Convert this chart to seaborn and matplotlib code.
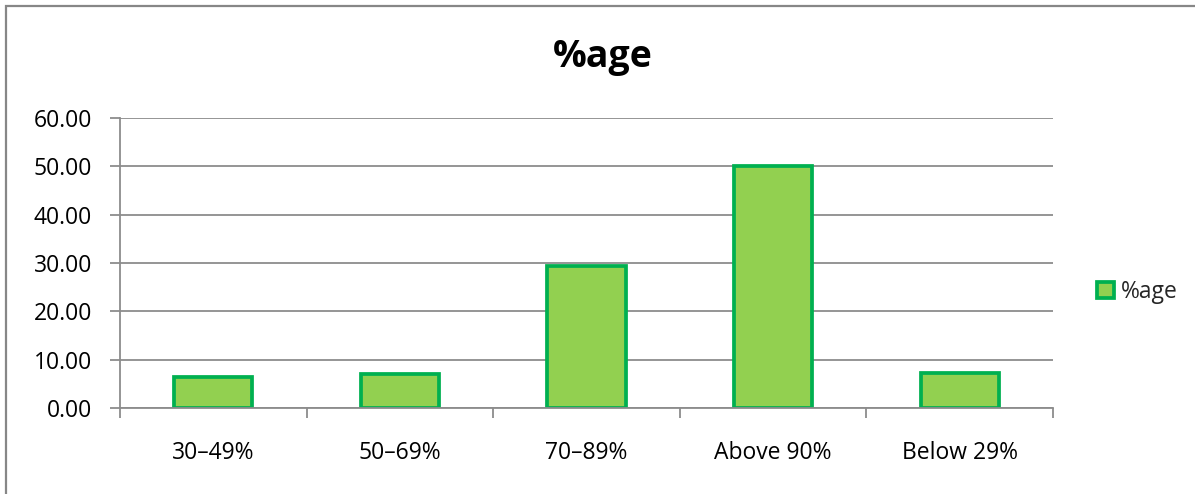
import matplotlib
matplotlib.use("Agg")
import matplotlib.pyplot as plt
import seaborn as sns
import pandas as pd
from matplotlib.patches import Rectangle, Patch
from matplotlib.ticker import FixedLocator

# data
categories = ["30–49%", "50–69%", "70–89%", "Above 90%", "Below 29%"]
values = [6.4, 7.0, 29.3, 50.0, 7.2]
series_name = "%age"
y_ticks = [0, 10, 20, 30, 40, 50, 60]

data = pd.DataFrame({"band": categories, "pct": values})

sns.set_style("white")
plt.rcParams["font.family"] = ["Open Sans", "DejaVu Sans"]

fill = "#92D050"
edge = "#00B050"
gray = "#8C8C8C"

fig = plt.figure(figsize=(11.95, 4.94), dpi=100)
ax = fig.add_axes([120 / 1195, 86 / 494, 933 / 1195, 290 / 494])

sns.barplot(data=data, x="band", y="pct", color=fill, edgecolor=edge,
            linewidth=2.7, width=0.42, saturation=1, ax=ax)

ax.set_xlim(-0.5, len(categories) - 0.5)
ax.set_ylim(0, 60)
ax.set_yticks(y_ticks)
ax.set_yticklabels([f"{v:.2f}" for v in y_ticks])
ax.set_xlabel("")
ax.set_ylabel("")

# grid
ax.yaxis.grid(True, color=gray, linewidth=1.3)
ax.set_axisbelow(True)
for s in ["top", "right"]:
    ax.spines[s].set_visible(False)
for s in ["left", "bottom"]:
    ax.spines[s].set_color(gray)
    ax.spines[s].set_linewidth(1.3)

# category boundary ticks
ax.xaxis.set_minor_locator(FixedLocator([i - 0.5 for i in range(len(categories) + 1)]))
ax.tick_params(axis="x", which="minor", length=7, width=1.3, color=gray, bottom=True)
ax.tick_params(axis="x", which="major", length=0, pad=24, labelsize=16.5, labelcolor="black")
ax.tick_params(axis="y", which="major", length=7, width=1.3, color=gray, left=True,
               pad=13, labelsize=16.5, labelcolor="black")

fig.text(603 / 1195, 1 - 57 / 494, "%age", ha="center", va="center",
         fontsize=27, fontweight="bold", color="black")

handle = Patch(facecolor=fill, edgecolor=edge, linewidth=2.7, label=series_name)
ax.legend(handles=[handle], loc="center left", bbox_to_anchor=(1.035, 0.4),
          frameon=False, fontsize=16.5, handlelength=0.75, handleheight=0.75,
          handletextpad=0.3, borderpad=0)

# outer chart frame (only left and top show in the crop)
fig.patches.append(Rectangle((6 / 1195, -0.1), 1.2, 1 - 6 / 494 + 0.1,
                             transform=fig.transFigure, fill=False,
                             edgecolor="#878787", linewidth=1.6))

fig.savefig("out.png", dpi=100)
